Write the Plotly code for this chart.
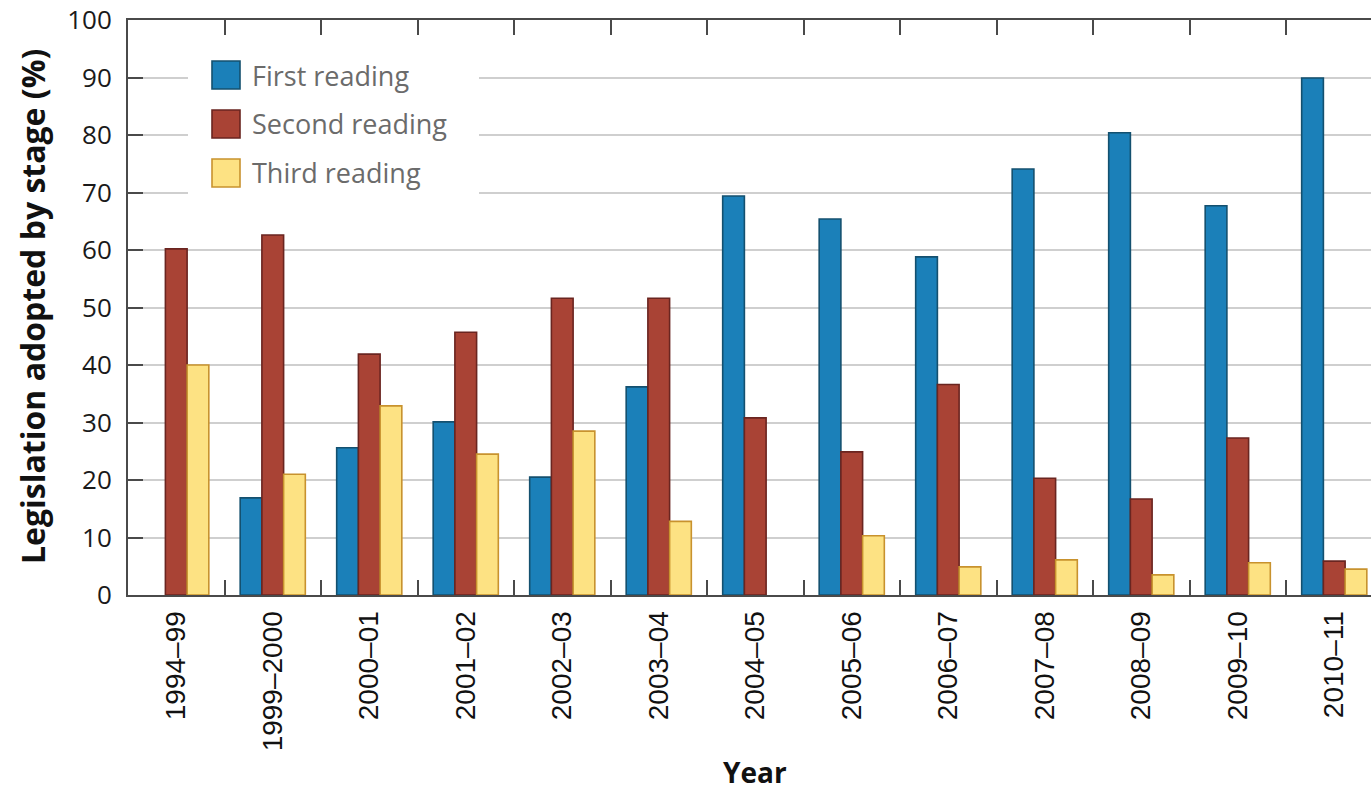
import plotly.graph_objects as go

years = ["1994\u201399", "1999\u20132000", "2000\u201301", "2001\u201302", "2002\u201303",
         "2003\u201304", "2004\u201305", "2005\u201306", "2006\u201307", "2007\u201308",
         "2008\u201309", "2009\u201310", "2010\u201311"]
first_reading = [0, 16.9, 25.6, 30.1, 20.5, 36.2, 69.4, 65.4, 58.8, 74.1, 80.4, 67.7, 89.9]
second_reading = [60.2, 62.6, 41.9, 45.7, 51.6, 51.6, 30.8, 24.9, 36.6, 20.3, 16.7, 27.3, 5.9]
third_reading = [40.0, 21.0, 32.9, 24.5, 28.5, 12.8, 0, 10.3, 4.9, 6.1, 3.5, 5.6, 4.5]
series_names = ["First reading", "Second reading", "Third reading"]
y_ticks = list(range(0, 101, 10))

fills = ["#1b80b9", "#a94335", "#fde283"]
outlines = ["#14506f", "#6a2520", "#c8922e"]

fig = go.Figure()
for name, vals, fc, lc in zip(series_names, [first_reading, second_reading, third_reading], fills, outlines):
    widths = [0 if v == 0 else 1.6 for v in vals]
    fig.add_trace(go.Bar(x=years, y=vals, name=name, showlegend=False,
                         marker=dict(color=fc, line=dict(color=lc, width=widths))))

W, H = 1371, 792
L, R, T, B = 128, 0, 20, 197
pw = W - L - R
ph = H - T - B
cat_w = 96.5
x_end = -0.5 + pw / cat_w

def px(xp):
    return (xp - L) / pw

def py(yp):
    return (H - B - yp) / ph

fig.update_layout(
    width=W, height=H,
    margin=dict(l=L, r=R, t=T, b=B, pad=0),
    paper_bgcolor="white", plot_bgcolor="white",
    barmode="group", bargap=0.325, bargroupgap=0,
    showlegend=False,
    xaxis=dict(
        type="category", range=[-0.5, x_end],
        tickson="boundaries", ticks="inside", ticklen=15, tickwidth=2, tickcolor="#4a4a4a",
        showline=True, linecolor="#4a4a4a", linewidth=2, mirror="ticks",
        tickangle=-90, tickfont=dict(family="Liberation Sans, Arial, sans-serif", size=28, color="#111"),
        ticklabelstandoff=3, showgrid=False, zeroline=False,
    ),
    yaxis=dict(
        range=[0, 100], tickvals=y_ticks,
        ticks="inside", ticklen=15, tickwidth=2, tickcolor="#4a4a4a",
        showline=True, linecolor="#4a4a4a", linewidth=2,
        showgrid=True, gridcolor="#cfcfcf", gridwidth=1.6, zeroline=False,
        tickfont=dict(family="Open Sans, sans-serif", size=26, color="#1a1a1a"),
        ticklabelstandoff=9,
    ),
    yaxis2=dict(
        overlaying="y", side="right", anchor="x", range=[0, 100], tickvals=y_ticks,
        ticks="inside", ticklen=6, tickwidth=2, tickcolor="#4a4a4a",
        showticklabels=False, showgrid=False, showline=False, zeroline=False,
    ),
)

annotations = [
    dict(text="<b>Legislation adopted by stage (%)</b>", xref="paper", yref="paper",
         x=px(32), y=py(307), xanchor="center", yanchor="middle", textangle=-90, showarrow=False,
         font=dict(family="Open Sans, sans-serif", size=32, color="#111")),
    dict(text="<b>Year</b>", xref="x", yref="paper", x=6, y=py(772), xanchor="center",
         yanchor="middle", showarrow=False,
         font=dict(family="Open Sans, sans-serif", size=28, color="#111")),
]

shapes = [dict(type="rect", xref="paper", yref="paper", x0=px(188), x1=px(479), y0=py(212), y1=py(44),
               fillcolor="white", line=dict(width=0), layer="above")]

sw_top = [61, 110, 159]
for name, fc, lc, top in zip(series_names, fills, outlines, sw_top):
    shapes.append(dict(type="rect", xref="paper", yref="paper", x0=px(212), x1=px(240),
                       y0=py(top + 28), y1=py(top), fillcolor=fc, line=dict(color=lc, width=1.6),
                       layer="above"))
    annotations.append(dict(text=name, xref="paper", yref="paper", x=px(250), y=py(top + 14),
                            xanchor="left", yanchor="middle", showarrow=False,
                            font=dict(family="Open Sans, sans-serif", size=27, color="#6b6b6b")))

fig.update_layout(shapes=shapes, annotations=annotations)

fig.write_html("out.html", config={"displayModeBar": False},
               post_script="document.body.style.margin='0';document.body.style.overflow='hidden';")
